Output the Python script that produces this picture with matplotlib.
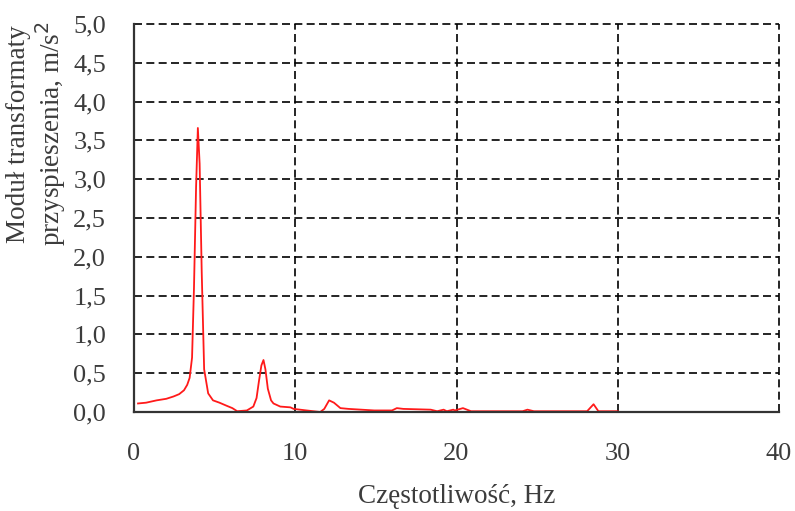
import matplotlib
matplotlib.use('Agg')
import matplotlib.pyplot as plt

# values
freq = [0.25, 0.75, 1.4, 2.0, 2.45, 2.8, 3.1, 3.3, 3.45, 3.6, 3.72, 3.85, 3.96,
        4.07, 4.2, 4.35, 4.6, 4.9, 5.3, 5.75, 6.1, 6.4, 7.0, 7.4, 7.6, 7.75,
        7.9, 8.03, 8.15, 8.3, 8.5, 8.65, 9.07, 9.7, 9.9, 10.7, 11.55, 11.8,
        12.1, 12.4, 12.8, 13.3, 14.9, 16.0, 16.3, 16.7, 18.4, 18.8, 19.2, 19.4,
        19.8, 19.9, 20.4, 20.9, 24.1, 24.4, 24.8, 28.1, 28.5, 28.8, 30.0]
amp = [0.11, 0.12, 0.15, 0.17, 0.2, 0.23, 0.28, 0.35, 0.44, 0.7, 1.6, 2.9, 3.66,
       3.2, 1.8, 0.55, 0.24, 0.15, 0.12, 0.08, 0.05, 0.01, 0.02, 0.07, 0.18, 0.4,
       0.6, 0.67, 0.55, 0.3, 0.15, 0.11, 0.07, 0.06, 0.04, 0.02, 0.0, 0.04,
       0.15, 0.12, 0.05, 0.04, 0.02, 0.02, 0.05, 0.04, 0.03, 0.01, 0.03, 0.01,
       0.03, 0.02, 0.05, 0.01, 0.01, 0.03, 0.01, 0.01, 0.1, 0.01, 0.01]

x_ticks = [0, 10, 20, 30, 40]
y_ticks = [0.0, 0.5, 1.0, 1.5, 2.0, 2.5, 3.0, 3.5, 4.0, 4.5, 5.0]

plt.rcParams['font.family'] = ['Liberation Serif', 'DejaVu Serif']
text_col = '#3c3c3c'

fig = plt.figure(figsize=(7.95, 5.11), dpi=100)
ax = fig.add_axes([134 / 795, 99 / 511, 645 / 795, 388 / 511])

ax.plot(freq, amp, color='#ff1a1a', linewidth=1.3, zorder=3)

ax.set_xlim(0, 40)
ax.set_ylim(0, 5.0)
ax.set_xticks(x_ticks)
ax.set_yticks(y_ticks)
ax.set_yticklabels([f'{v:.1f}'.replace('.', ',') for v in y_ticks])

ax.grid(True, color='black', linestyle=(0, (4.8, 2.6)), linewidth=1.2)
for line in ax.get_xgridlines() + ax.get_ygridlines():
    line.set_clip_on(False)

for side in ['top', 'right']:
    ax.spines[side].set_visible(False)
for side in ['left', 'bottom']:
    ax.spines[side].set_color('#333333')
    ax.spines[side].set_linewidth(1.6)
    ax.spines[side].set_zorder(4)

ax.tick_params(axis='x', length=0, pad=22, labelsize=19, colors=text_col)
ax.tick_params(axis='y', length=0, pad=20, labelsize=19, colors=text_col)

ax.set_xlabel('Częstotliwość, Hz', fontsize=19.5, labelpad=14, color=text_col)
fig.text(37 / 795, 1 - 134 / 511, 'Moduł transformaty\nprzyspieszenia, m/s$^2$',
         rotation=90, ha='center', va='center', fontsize=19.5, color=text_col,
         linespacing=1.1)

fig.savefig('out.png', dpi=100)
